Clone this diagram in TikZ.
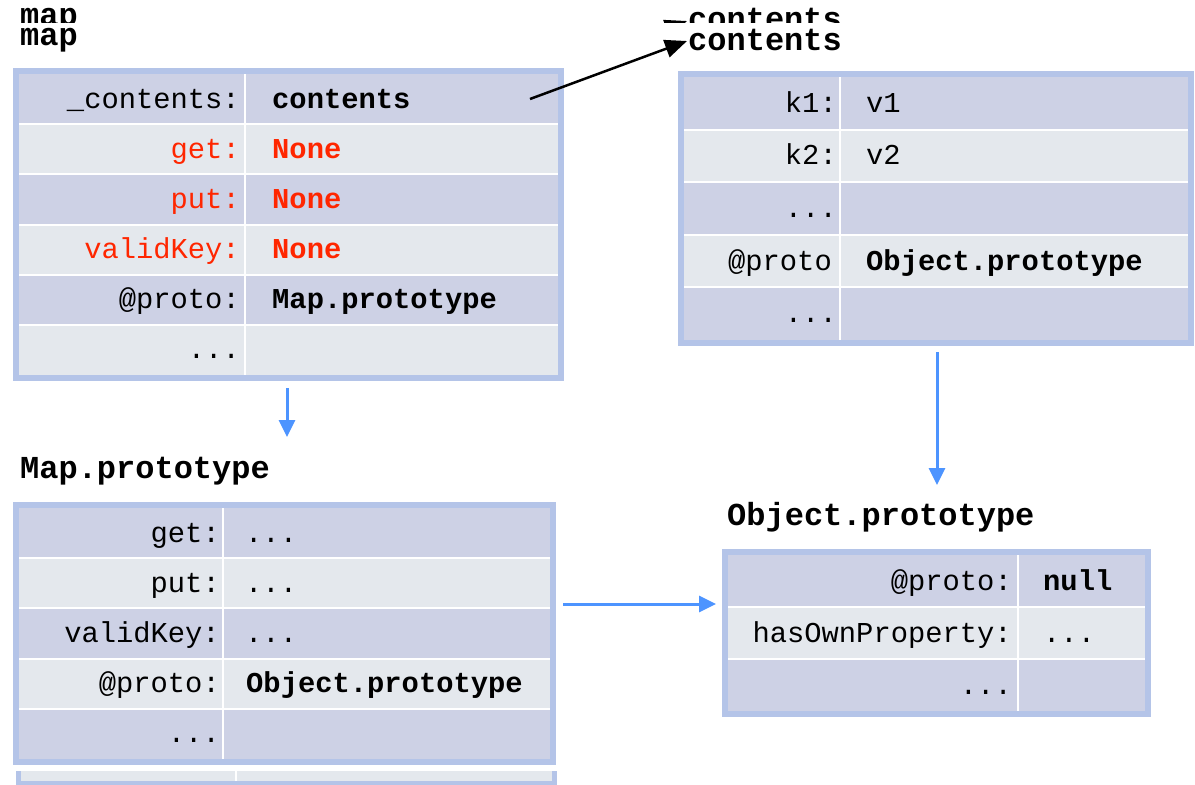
\documentclass[tikz,border=0pt]{standalone}
\usepackage{fontspec}
\setmonofont{Liberation Mono}
\usetikzlibrary{arrows.meta}
\definecolor{bordc}{RGB}{180,196,232}
\definecolor{darkrow}{RGB}{205,209,229}
\definecolor{lightrow}{RGB}{228,232,237}
\definecolor{arrblue}{RGB}{77,148,255}
\definecolor{keyred}{RGB}{255,38,0}
\newcommand\cellkeyfont{\ttfamily\fontsize{28.8}{30}\selectfont}
\newcommand\cellvalfont{\ttfamily\bfseries\fontsize{28.8}{30}\selectfont}
\newcommand\titlefont{\ttfamily\bfseries\fontsize{32}{34}\selectfont}
% #1 x0, #2 y0, #3 x1, #4 y1, #5 rows, #6 divider x
\newcommand{\objtable}[6]{%
  \fill[bordc] (#1,#2) rectangle (#3,#4);
  \fill[white] (#1+6,#2+6) rectangle (#3-6,#4-6);
  \pgfmathsetmacro\rh{(#4-#2-12)/#5}
  \foreach \i in {1,...,#5}{
    \pgfmathsetmacro\ya{#2+6+(\i-1)*\rh+(\i>1?1:0)}
    \pgfmathsetmacro\yb{#2+6+\i*\rh-(\i<#5?1:0)}
    \pgfmathtruncatemacro\oddrow{mod(\i,2)}
    \ifnum\oddrow=1 \def\rc{darkrow}\else\def\rc{lightrow}\fi
    \fill[\rc] (#1+6,\ya) rectangle (#6-1,\yb);
    \fill[\rc] (#6+1,\ya) rectangle (#3-6,\yb);
  }%
}
\tikzset{
  cellkey/.style={anchor=base east, inner sep=0pt, font=\cellkeyfont},
  cellval/.style={anchor=base west, inner sep=0pt, font=\cellkeyfont},
  cellbold/.style={anchor=base west, inner sep=0pt, font=\cellvalfont},
  titletext/.style={anchor=base west, inner sep=0pt, font=\titlefont},
  ghosttext/.style={titletext, text depth=0pt},
  redtext/.style={text=keyred},
  bluearrow/.style={draw=arrblue, line width=3pt, -{Triangle[length=17pt,width=16pt]}},
  blackarrow/.style={draw=black, line width=2.5pt, -{Triangle[length=22pt,width=18pt]}},
}
\begin{document}
\begin{tikzpicture}[x=1pt,y=-1pt]
\useasboundingbox (0,0) rectangle (1195,785);

% ghost copies at the top (clipped)
\begin{scope}
  \clip (0,0) rectangle (1195,22);
  \node[ghosttext] (mapghost) at (20,25) {map};
  \node[ghosttext] (contghost) at (688,29) {contents};
  \coordinate (gs) at (530,79);
  \coordinate (ge) at (687,21);
  \draw[blackarrow] (gs) -- (ge);
\end{scope}

% titles
\node[titletext] (maptitle) at (20,45) {map};
\node[titletext] (conttitle) at (688,50) {contents};
\node[titletext] (mptitle) at (20,478) {Map.prototype};
\node[titletext] (optitle) at (727,525) {Object.prototype};

% map table
\objtable{13}{68}{564}{381}{6}{245}
\node[cellkey] (m1k) at (240,108.1) {\_contents:};
\node[cellbold] (m1v) at (272,108.1) {contents};
\node[cellkey,redtext] (m2k) at (240,158.3) {get:};
\node[cellbold,redtext] (m2v) at (272,158.3) {None};
\node[cellkey,redtext] (m3k) at (240,208.4) {put:};
\node[cellbold,redtext] (m3v) at (272,208.4) {None};
\node[cellkey,redtext] (m4k) at (240,258.6) {validKey:};
\node[cellbold,redtext] (m4v) at (272,258.6) {None};
\node[cellkey] (m5k) at (240,308.8) {@proto:};
\node[cellbold] (m5v) at (272,308.8) {Map.prototype};
\node[cellkey] (m6k) at (240,358.9) {...};

% contents table
\objtable{678}{71}{1194}{346}{5}{840}
\node[cellkey] (c1k) at (837,112.3) {k1:};
\node[cellval] (c1v) at (866,112.3) {v1};
\node[cellkey] (c2k) at (837,164.9) {k2:};
\node[cellval] (c2v) at (866,164.9) {v2};
\node[cellkey] (c3k) at (837,217.5) {...};
\node[cellkey] (c4k) at (832,270.1) {@proto};
\node[cellbold] (c4v) at (866,270.1) {Object.prototype};
\node[cellkey] (c5k) at (837,322.7) {...};

% Map.prototype table
\objtable{13}{502}{556}{765}{5}{223}
\node[cellkey] (p1k) at (220,542.1) {get:};
\node[cellval] (p1v) at (245,542.1) {...};
\node[cellkey] (p2k) at (220,592.3) {put:};
\node[cellval] (p2v) at (245,592.3) {...};
\node[cellkey] (p3k) at (220,642.5) {validKey:};
\node[cellval] (p3v) at (245,642.5) {...};
\node[cellkey] (p4k) at (220,692.7) {@proto:};
\node[cellbold] (p4v) at (246,692.7) {Object.prototype};
\node[cellkey] (p5k) at (220,742.9) {...};

% ghost strip at the bottom
\fill[bordc] (16,771) rectangle (557,785);
\fill[lightrow] (21,771) rectangle (552,781);
\fill[white] (235,771) rectangle (237,781);

% Object.prototype table
\objtable{722}{549}{1151}{717}{3}{1018}
\node[cellkey] (o1k) at (1012,590) {@proto:};
\node[cellbold] (o1v) at (1043,590) {null};
\node[cellkey] (o2k) at (1012,642) {hasOwnProperty:};
\node[cellval] (o2v) at (1043,642) {...};
\node[cellkey] (o3k) at (1012,694) {...};

% connectors
\coordinate (cs) at (530,99);
\coordinate (ce) at (687,41);
\draw[blackarrow] (cs) -- (ce);
\coordinate (a1s) at (287,388);
\coordinate (a1e) at (287,437);
\draw[bluearrow] (a1s) -- (a1e);
\coordinate (a2s) at (937,352);
\coordinate (a2e) at (937,485);
\draw[bluearrow] (a2s) -- (a2e);
\coordinate (a3s) at (563,604);
\coordinate (a3e) at (716,604);
\draw[bluearrow] (a3s) -- (a3e);
\end{tikzpicture}
\end{document}
